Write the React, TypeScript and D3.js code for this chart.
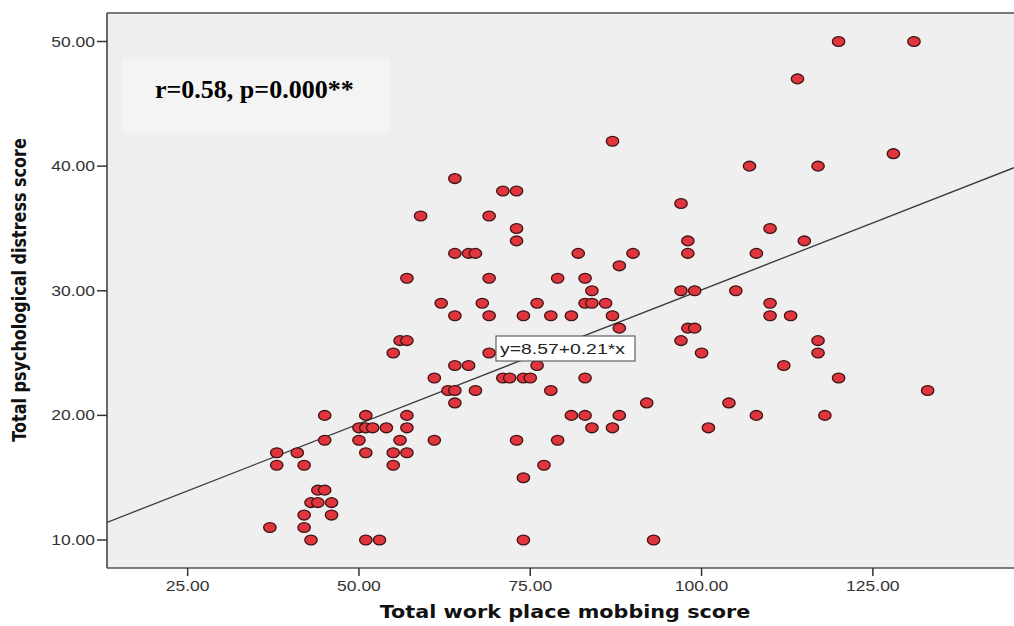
import React from "react";
import * as d3 from "d3";

// ---- data ----
const mobbingScore: number[] = [
  120, 131,
  114,
  87,
  128,
  107, 117,
  64,
  71, 73,
  97,
  59, 69,
  73, 110,
  73, 98, 115,
  64, 66, 67, 82, 90, 98, 108,
  88,
  57, 69, 79, 83,
  84, 97, 99, 105,
  62, 68, 76, 83, 84, 86, 110,
  64, 69, 74, 78, 81, 87, 110, 113,
  88, 98, 99,
  56, 57, 97, 117,
  55, 69, 100, 117,
  64, 66, 76, 112,
  61, 71, 72, 74, 75, 83, 120,
  63, 64, 67, 78, 133,
  64, 92, 104,
  45, 51, 57, 81, 83, 88, 108, 118,
  50, 51, 52, 54, 57, 84, 87, 101,
  45, 50, 56, 61, 73, 79,
  38, 41, 51, 55, 57,
  38, 42, 55, 77,
  74,
  44, 45,
  43, 44, 46,
  42, 46,
  37, 42,
  43, 51, 53, 74, 93,
];
const distressScore: number[] = [
  50, 50,
  47,
  42,
  41,
  40, 40,
  39,
  38, 38,
  37,
  36, 36,
  35, 35,
  34, 34, 34,
  33, 33, 33, 33, 33, 33, 33,
  32,
  31, 31, 31, 31,
  30, 30, 30, 30,
  29, 29, 29, 29, 29, 29, 29,
  28, 28, 28, 28, 28, 28, 28, 28,
  27, 27, 27,
  26, 26, 26, 26,
  25, 25, 25, 25,
  24, 24, 24, 24,
  23, 23, 23, 23, 23, 23, 23,
  22, 22, 22, 22, 22,
  21, 21, 21,
  20, 20, 20, 20, 20, 20, 20, 20,
  19, 19, 19, 19, 19, 19, 19, 19,
  18, 18, 18, 18, 18, 18,
  17, 17, 17, 17, 17,
  16, 16, 16, 16,
  15,
  14, 14,
  13, 13, 13,
  12, 12,
  11, 11,
  10, 10, 10, 10, 10,
];
const xTicks = [25, 50, 75, 100, 125];
const yTicks = [10, 20, 30, 40, 50];
const xDomain = [13.23, 145.6];
const yDomain = [10, 50];
const fitIntercept = 8.57;
const fitSlope = 0.215;
const fitLabel = "y=8.57+0.21*x";
const statLabel = "r=0.58, p=0.000**";
const xTitle = "Total work place mobbing score";
const yTitle = "Total psychological distress score";

const W = 1014;
const H = 626;
const SX = 1.25; // horizontal stretch of the original picture

export default function App() {
  const left = 107, top = 13, bottom = 568, right = 1014;
  const x = d3.scaleLinear().domain(xDomain).range([left, right]);
  const y = d3.scaleLinear().domain(yDomain).range([540, 41.5]);

  const line = d3
    .line<number>()
    .x((d) => x(d))
    .y((d) => y(fitIntercept + fitSlope * d));

  const pts = mobbingScore.map((m, i) => ({ m, d: distressScore[i] }));

  return (
    <svg
      width={W}
      height={H}
      style={{ position: "absolute", left: 0, top: 0, background: "#fff" }}
    >
      <defs>
        <clipPath id="plotclip">
          <rect x={left} y={top} width={right - left + 5} height={bottom - top} />
        </clipPath>
      </defs>
      <rect x={left} y={top} width={right - left + 5} height={bottom - top} fill="#efefef" />

      {/* stat annotation background */}
      <rect x={122} y={59} width={268} height={73} fill="#f4f4f4" />
      <text
        x={155}
        y={98}
        fontFamily="'Liberation Serif', 'Times New Roman', serif"
        fontWeight="bold"
        fontSize={26}
        fill="#000"
      >
        {statLabel}
      </text>

      {/* regression line */}
      <g clipPath="url(#plotclip)">
        <path d={line(xDomain) || ""} stroke="#3a3a3a" strokeWidth={1.3} fill="none" />
      </g>

      {/* points */}
      <g clipPath="url(#plotclip)">
        {pts.map((p, i) => (
          <ellipse
            key={i}
            cx={x(p.m)}
            cy={y(p.d)}
            rx={6.2}
            ry={4.9}
            fill="#e0353d"
            stroke="#3d1414"
            strokeWidth={1.3}
          />
        ))}
      </g>

      {/* fit label */}
      <rect x={496} y={336} width={139} height={25} fill="#fff" stroke="#444" strokeWidth={1} />
      <text
        transform={`translate(500,354) scale(${SX},1)`}
        fontFamily="'Liberation Sans', Arial, sans-serif"
        fontSize={15.5}
        fill="#222"
      >
        {fitLabel}
      </text>

      {/* frame */}
      <line x1={left} x2={right + 5} y1={top} y2={top} stroke="#7a7a7a" strokeWidth={2} />
      <line x1={left} x2={left} y1={top} y2={bottom} stroke="#444" strokeWidth={1.6} />
      <line x1={left} x2={right + 5} y1={bottom} y2={bottom} stroke="#555" strokeWidth={1.6} />

      {/* y axis */}
      {yTicks.map((t) => (
        <g key={t}>
          <line x1={97} x2={left} y1={y(t)} y2={y(t)} stroke="#333" strokeWidth={1.5} />
          <text
            transform={`translate(95,${y(t) + 5}) scale(${SX},1)`}
            textAnchor="end"
            fontFamily="'Liberation Sans', Arial, sans-serif"
            fontSize={14}
            fill="#333"
          >
            {d3.format(".2f")(t)}
          </text>
        </g>
      ))}

      {/* x axis */}
      {xTicks.map((t) => (
        <g key={t}>
          <line x1={x(t)} x2={x(t)} y1={bottom} y2={576} stroke="#333" strokeWidth={1.5} />
          <text
            transform={`translate(${x(t)},591) scale(${SX},1)`}
            textAnchor="middle"
            fontFamily="'Liberation Sans', Arial, sans-serif"
            fontSize={14}
            fill="#333"
          >
            {d3.format(".2f")(t)}
          </text>
        </g>
      ))}

      {/* axis titles */}
      <text
        transform={`translate(565,618) scale(1.22,1)`}
        textAnchor="middle"
        fontFamily="'DejaVu Sans', Verdana, sans-serif"
        fontWeight="bold"
        fontSize={17}
        fill="#111"
      >
        {xTitle}
      </text>
      <text
        transform={`translate(26,290) scale(${SX},1) rotate(-90)`}
        textAnchor="middle"
        fontFamily="'DejaVu Sans', Verdana, sans-serif"
        fontWeight="bold"
        fontSize={16}
        fill="#111"
      >
        {yTitle}
      </text>
    </svg>
  );
}
